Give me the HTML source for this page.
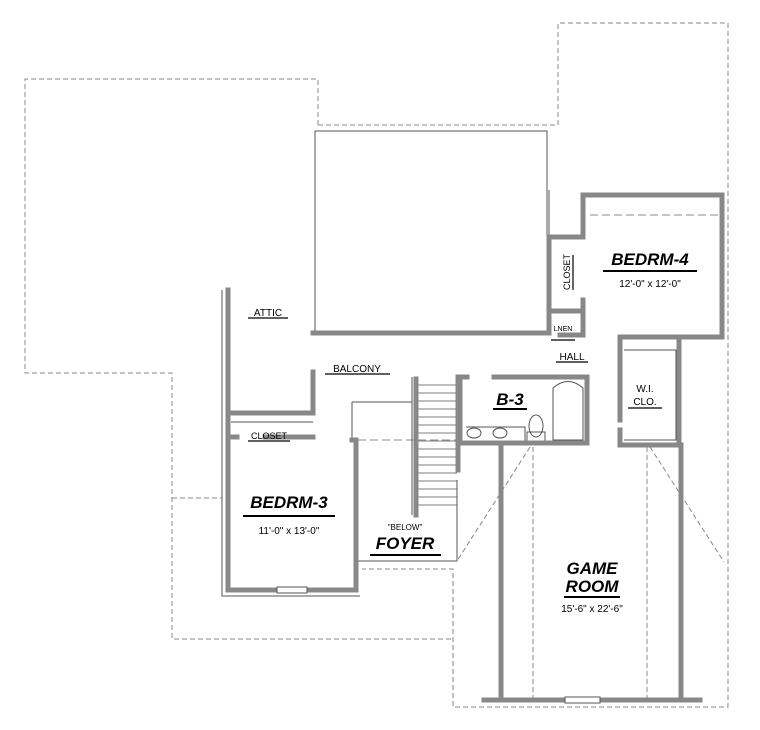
<!DOCTYPE html>
<html><head><style>
html,body{margin:0;padding:0;background:#fff;}
svg{display:block;}
.l{font-family:"Liberation Sans",sans-serif;font-weight:bold;font-style:italic;}
.s{font-family:"Liberation Sans",sans-serif;}
</style></head><body>
<svg width="760" height="730" viewBox="0 0 760 730" xmlns="http://www.w3.org/2000/svg">
<g fill="none" stroke="#888" stroke-width="1" stroke-dasharray="5,3">
<path d="M318,125 L318,79 L25,79 L25,373 L172,373 L172,639 L453,639"/>
<path d="M318,125 L558,125 L558,23 L728,23 L728,707 L453,707 L453,569 L362,569"/>
<path d="M172,498 L222,498"/>
<path d="M590,215 L722,215" stroke-dasharray="8,4"/>
<path d="M533,447 L533,700 M647,447 L647,700"/>
<path d="M530,447 L457,561 M650,447 L724,562"/>
<path d="M358,440 L458,440" stroke-dasharray="8,4"/>
</g>
<g fill="none" stroke="#555" stroke-width="1">
<path d="M315,333 L315,131 L547,131 L547,333"/>
<path d="M549,190 L549,236"/>
<path d="M222,290 L222,596 L360,596"/>
<path d="M358,561 L457,561 L457,480"/>
<path d="M352,402 L412,402 M352,402 L352,440 M412,377 L412,515"/>
<path d="M553,440 L553,388 Q568,375 583,388 L583,440 Z"/>
<path d="M466,427 L525,427 L525,443"/>
<ellipse cx="474" cy="433" rx="7" ry="5"/><ellipse cx="500" cy="433" rx="7" ry="5"/>
<ellipse cx="536" cy="426" rx="7" ry="11"/><rect x="527" y="432" width="18" height="10"/>
<path d="M624,350 L676,350 L676,440 L624,440 M231,422 L313,422"/>
<path d="M723,230 L723,300 M550,240 L550,330"/>
</g>
<g stroke="#555" stroke-width="0.8">
<path d="M414,385 L457,385 M414,393 L457,393 M414,401 L457,401 M414,409 L457,409 M414,417 L457,417 M414,425 L457,425 M414,433 L457,433 M414,441 L457,441 M414,449 L457,449 M414,457 L457,457 M414,465 L457,465 M414,473 L457,473 M414,481 L457,481 M414,489 L457,489 M414,497 L457,497 M414,505 L457,505"/>
</g>
<g fill="none" stroke="#888" stroke-width="5" stroke-linecap="square">
<path d="M313,333 L549,333"/>
<path d="M549,333 L549,237 L583,237 L583,195 L722,195 L722,337 L620,337 L620,420"/>
<path d="M583,300 L583,335 L560,335 M549,311 L583,311"/>
<path d="M679,337 L679,445 L620,445 L620,430"/>
<path d="M460,377 L467,377 M494,377 L587,377 L587,443 L460,443 L460,377"/>
<path d="M458,377 L458,470 M416,379 L416,515"/>
<path d="M501,445 L501,700 M681,445 L681,700"/>
<path d="M484,700 L700,700"/>
<path d="M228,290 L228,590 L356,590 L356,440 L352,440"/>
<path d="M228,413 L313,413 L313,372 M228,437 L237,437 M265,437 L313,437"/>
</g>
<g fill="#fff" stroke="#555" stroke-width="1">
<rect x="277" y="587" width="30" height="6"/>
<rect x="565" y="697" width="35" height="6"/>
</g>
<g class="l" fill="#000" text-anchor="middle">
<text x="650" y="265" font-size="17">BEDRM-4</text>
<text x="289" y="508" font-size="17">BEDRM-3</text>
<text x="510" y="405" font-size="17">B-3</text>
<text x="405" y="549" font-size="17">FOYER</text>
<text x="592" y="574" font-size="17">GAME</text>
<text x="592" y="592" font-size="17">ROOM</text>
</g>
<g fill="#000" stroke="#000" stroke-width="2">
<path d="M603,271 L697,271 M243,516 L335,516 M493,409 L527,409 M370,555 L441,555 M564,597 L620,597"/>
</g>
<g stroke="#000" stroke-width="1.2">
<path d="M248,318 L288,318 M325,374 L390,374 M556,362 L588,362 M628,408 L662,408 M248,441 L290,441 M551,340 L575,340 M573,255 L573,290"/>
</g>
<g class="s" fill="#000" text-anchor="middle" font-size="10">
<text x="650" y="287">12'-0" x 12'-0"</text>
<text x="289" y="534">11'-0" x 13'-0"</text>
<text x="592" y="612">15'-6" x 22'-6"</text>
<text x="268" y="316">ATTIC</text>
<text x="357" y="372">BALCONY</text>
<text x="572" y="360">HALL</text>
<text x="645" y="392">W.I.</text>
<text x="645" y="405">CLO.</text>
<text x="269" y="439" font-size="9">CLOSET</text>
<text x="405" y="530" font-size="8">"BELOW"</text>
<text x="563" y="331" font-size="7">LNEN</text>
<text x="0" y="0" font-size="9" transform="translate(570,272) rotate(-90)">CLOSET</text>
</g>
</svg>
</body></html>
